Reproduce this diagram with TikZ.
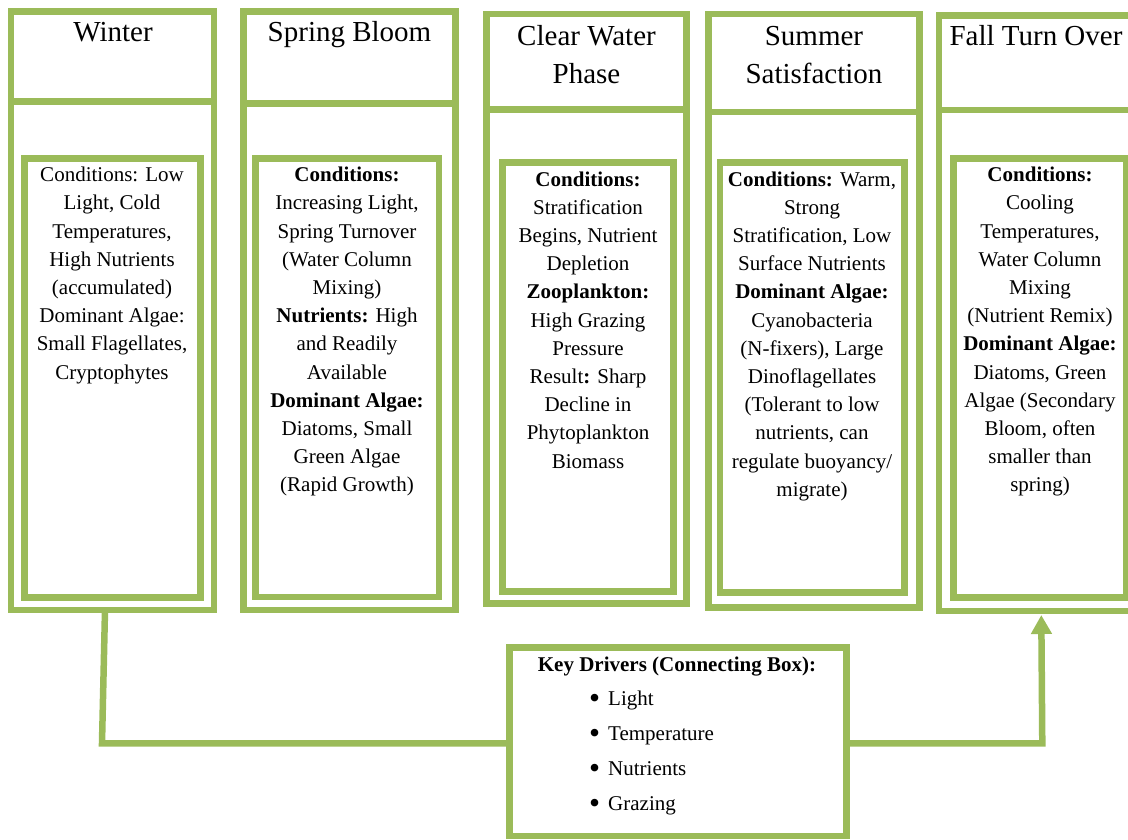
\documentclass[tikz,border=0pt]{standalone}
\usepackage{fontspec}
\usepackage{graphicx}
\setmainfont{Liberation Serif}
\usetikzlibrary{arrows.meta}
\definecolor{leafgreen}{HTML}{9BBB59}
\newcommand{\keybullet}{\makebox[19pt][l]{\raisebox{-3pt}{\scalebox{1.5}{\textbullet}}}}
\begin{document}
\begin{tikzpicture}[x=1pt,y=-1pt,
  frame/.style={draw=leafgreen,line width=6.5pt,inner sep=0pt,outer sep=0pt,anchor=north west},
  sepline/.style={draw=leafgreen,line width=6.5pt},
  conn/.style={draw=leafgreen,line width=6.5pt,line join=miter},
  ttl/.style={font=\fontsize{29pt}{38.3pt}\selectfont,align=center,inner sep=0pt,anchor=base},
  body/.style={font=\fontsize{21pt}{28.2pt}\selectfont,align=center,inner sep=0pt,anchor=base},
  keytext/.style={font=\fontsize{21pt}{35pt}\selectfont,inner sep=0pt}]
\useasboundingbox (0,0) rectangle (1128,839);

% outer column frames
\node[frame,minimum width=203pt,minimum height=598.7pt] (winter) at (11,11.3) {};
\node[frame,minimum width=212.4pt,minimum height=598.7pt] (spring) at (243.3,11.3) {};
\node[frame,minimum width=199.6pt,minimum height=589.3pt] (clear) at (486.7,14) {};
\node[frame,minimum width=210.6pt,minimum height=593.3pt] (summer) at (708.7,14) {};
\node[frame,minimum width=201pt,minimum height=595.1pt] (fall) at (939,15.7) {};

% title separators
\draw[sepline] ([yshift=-90pt]winter.north west) -- ([yshift=-90pt]winter.north east);
\draw[sepline] ([yshift=-92pt]spring.north west) -- ([yshift=-92pt]spring.north east);
\draw[sepline] ([yshift=-95.3pt]clear.north west) -- ([yshift=-95.3pt]clear.north east);
\draw[sepline] ([yshift=-98pt]summer.north west) -- ([yshift=-98pt]summer.north east);
\draw[sepline] ([yshift=-94.3pt]fall.north west) -- ([yshift=-94.3pt]fall.north east);

% inner boxes
\node[frame,minimum width=176.4pt,minimum height=439pt] (winterin) at (24.3,158.3) {};
\node[frame,minimum width=183.3pt,minimum height=438.7pt] (springin) at (255.7,158.3) {};
\node[frame,minimum width=171.4pt,minimum height=429.4pt] (clearin) at (502.3,162.3) {};
\node[frame,minimum width=184.3pt,minimum height=430pt] (summerin) at (720,162.3) {};
\node[frame,minimum width=172.3pt,minimum height=439pt] (fallin) at (953.7,158.3) {};

% titles (base anchor = last line baseline)
\node[ttl] (t1) at (113,41.7) {Winter};
\node[ttl] (t2) at (349.5,41.7) {Spring Bloom};
\node[ttl] (t3) at (586.5,83.3) {Clear Water\\Phase};
\node[ttl] (t4) at (814,83.3) {Summer\\Satisfaction};
\node[ttl] (t5) at (1036,45) {Fall Turn Over};

% body texts (base anchor = last line baseline)
\node[body] (b1) at (112,379.1) {Conditions: Low\\Light, Cold\\Temperatures,\\High Nutrients\\(accumulated)\\Dominant Algae:\\Small Flagellates,\\Cryptophytes};
\node[body] (b2) at (347,491.9) {\textbf{Conditions:}\\Increasing Light,\\Spring Turnover\\(Water Column\\Mixing)\\\textbf{Nutrients:} High\\and Readily\\Available\\\textbf{Dominant Algae:}\\Diatoms, Small\\Green Algae\\(Rapid Growth)};
\node[body] (b3) at (588,468) {\textbf{Conditions:}\\Stratification\\Begins, Nutrient\\Depletion\\\textbf{Zooplankton:}\\High Grazing\\Pressure\\ Result\textbf{:} Sharp\\Decline in\\Phytoplankton\\Biomass};
\node[body] (b4) at (812,496.2) {\textbf{Conditions:} Warm,\\Strong\\Stratification, Low\\Surface Nutrients\\\textbf{Dominant Algae:}\\Cyanobacteria\\(N-fixers), Large\\Dinoflagellates\\(Tolerant to low\\nutrients, can\\regulate buoyancy/\\migrate)};
\node[body] (b5) at (1040,491.9) {\textbf{Conditions:}\\Cooling\\Temperatures,\\Water Column\\Mixing\\(Nutrient Remix)\\\textbf{Dominant Algae:}\\Diatoms, Green\\Algae (Secondary\\Bloom, often\\smaller than\\spring)};

% key drivers box
\node[frame,minimum width=337.4pt,minimum height=188.7pt] (key) at (509.3,647.3) {};
\node[keytext,anchor=base] (keyttl) at (677,671) {\textbf{Key Drivers (Connecting Box):}};
\node[keytext,anchor=base west,align=left] (keylist) at (589,810.7)
  {\keybullet Light\\ \keybullet Temperature\\ \keybullet Nutrients\\ \keybullet Grazing};

% connectors
\coordinate (bendL) at (102,743.3);
\coordinate (bendR) at (1042.3,743.3);
\draw[conn] ([xshift=-7.5pt]winter.south) -- (bendL) -- (key.west |- bendL);
\draw[conn,-{Triangle[width=20pt,length=19pt]}] (key.east |- bendR) -- (bendR) -- ([xshift=1.8pt,yshift=-4.2pt]fall.south);
\end{tikzpicture}
\end{document}
